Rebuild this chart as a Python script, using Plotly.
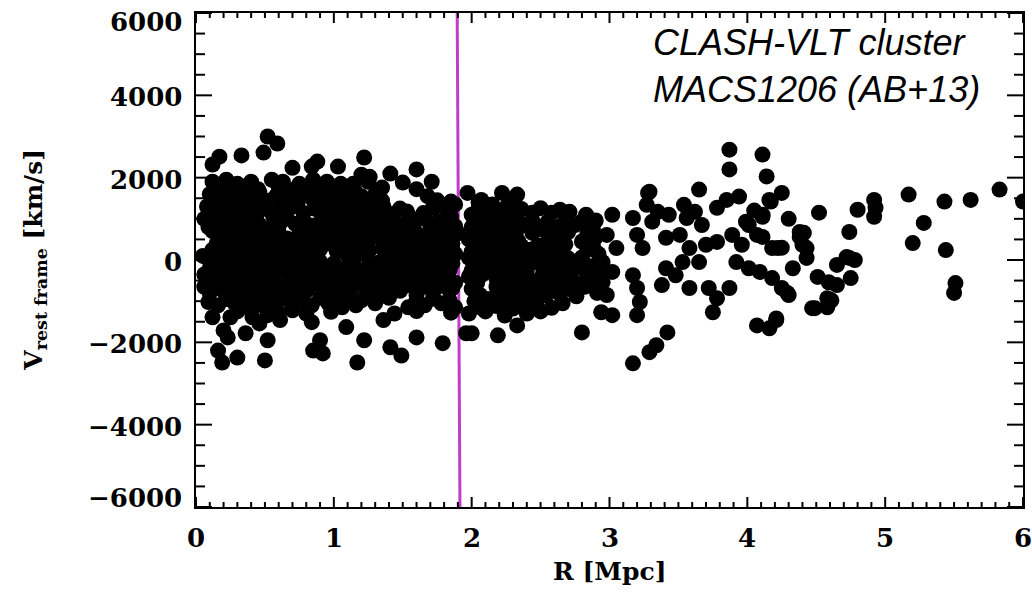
import plotly.graph_objects as go

# ---- data: outer / sparse points (R in Mpc, V in km/s) ----
R_OUT = [0.52, 0.59, 0.17, 0.33, 0.49, 0.12, 0.88, 0.70, 1.03, 1.22, 1.41, 1.26, 0.84, 1.20, 1.60, 1.50,
         1.71, 1.72, 1.97, 0.12, 0.09, 0.08, 0.09, 0.12, 1.14,
         0.16, 0.19, 0.30, 0.23, 0.50, 0.52, 0.36, 0.41, 0.85, 0.92, 0.90, 1.17, 1.22, 1.09, 1.41, 1.49,
         1.60, 1.79, 1.36, 1.44, 1.96, 0.84, 0.80, 0.46, 0.52, 0.61, 0.20, 0.25]
V_OUT = [3000, 2830, 2510, 2540, 2610, 2320, 2390, 2240, 2270, 2490, 2100, 2020, 2270, 2070, 2200, 1880,
         1900, 1270, 1630, 1460, 800, 50, -1020, -1390, 1850,
         -2200, -2490, -2370, -1880, -2440, -1950, -1780, -1390, -2200, -2270, -1950, -2490, -1950, -1630, -2120, -2320,
         -1880, -2020, -1460, -1300, -1780, -1510, -1300, -1540, -1340, -1460, -1710, -1390]

# ---- data: dense inner region R < 1.95 ----
R_IN = [0.12, 0.22, 0.30, 0.40, 0.55, 0.63, 0.75, 0.85, 0.95, 1.05, 1.25,
        0.10, 0.20, 0.28, 0.37, 0.46, 0.58, 0.68, 0.80, 0.90, 1.00, 1.10, 1.20, 1.30, 1.68,
        0.08, 0.17, 0.26, 0.35, 0.50, 0.62, 0.70, 0.86, 0.96, 1.06, 1.14, 1.25, 1.36, 1.48, 1.80, 1.88,
        0.06, 0.14, 0.24, 0.33, 0.42, 0.56, 0.66, 0.78, 0.92, 1.02, 1.12, 1.20, 1.32, 1.44, 1.55, 1.66, 1.76, 1.85,
        0.12, 0.22, 0.30, 0.38, 0.50, 0.60, 0.80, 0.88, 0.98, 1.08, 1.18, 1.28, 1.40, 1.50, 1.60, 1.70, 1.80, 1.90,
        0.15, 0.24, 0.32, 0.42, 0.52, 0.62, 0.70, 0.78, 0.86, 0.95, 1.06, 1.16, 1.24, 1.36, 1.46, 1.56, 1.66, 1.76, 1.86,
        0.05, 0.18, 0.26, 0.36, 0.46, 0.56, 0.64, 0.74, 0.84, 1.10, 1.20, 1.40, 1.50, 1.58, 1.70, 1.80, 1.88,
        0.10, 0.20, 0.30, 0.40, 0.50, 0.60, 0.70, 0.80, 0.90, 1.00, 1.10, 1.20, 1.30, 1.42, 1.52, 1.62, 1.74, 1.84,
        0.14, 0.24, 0.34, 0.44, 0.54, 0.66, 0.76, 0.86, 0.96, 1.06, 1.16, 1.26, 1.36, 1.46, 1.56, 1.66, 1.78, 1.88,
        0.10, 0.20, 0.30, 0.40, 0.50, 0.60, 0.70, 0.80, 0.92, 1.02, 1.12, 1.24, 1.34, 1.48, 1.60, 1.72, 1.84,
        0.16, 0.28, 0.38, 0.48, 0.58, 0.70, 0.84, 0.96, 1.06, 1.16, 1.30, 1.54, 1.66, 1.78, 1.88]
V_IN = [1900, 1950, 1850, 1900, 1950, 1900, 1850, 1950, 1900, 1850, 1900,
        1600, 1650, 1550, 1600, 1650, 1550, 1600, 1650, 1550, 1600, 1650, 1550, 1600, 1550,
        1300, 1250, 1350, 1300, 1250, 1350, 1300, 1250, 1350, 1300, 1250, 1350, 1300, 1250, 1300, 1350,
        1000, 950, 1050, 1000, 950, 1050, 1000, 950, 1050, 1000, 950, 1050, 1000, 950, 1050, 1000, 950, 1050,
        700, 750, 650, 700, 750, 650, 700, 750, 650, 700, 750, 650, 700, 750, 650, 700, 750, 650,
        400, 350, 450, 400, 350, 450, 400, 350, 450, 400, 350, 450, 400, 350, 450, 400, 350, 450, 400,
        100, 150, 50, 100, 150, 50, 100, 150, 50, 100, 150, 50, 100, 150, 50, 100, 150,
        -200, -150, -250, -200, -150, -250, -200, -150, -250, -200, -150, -250, -200, -150, -250, -200, -150, -250,
        -500, -450, -550, -500, -450, -550, -500, -450, -550, -500, -450, -550, -500, -450, -550, -500, -450, -550,
        -800, -750, -850, -800, -750, -850, -800, -750, -850, -800, -750, -850, -800, -750, -850, -800, -750,
        -1100, -1050, -1150, -1100, -1050, -1150, -1100, -1050, -1150, -1100, -1050, -1150, -1100, -1050, -1150]

# ---- data: dense inner region, in-between rows ----
R_IN2 = [0.15, 0.25, 0.35, 0.45, 0.60, 0.70, 0.80, 0.90, 1.00, 1.15, 1.35, 1.60,
         0.15, 0.25, 0.33, 0.42, 0.52, 0.63, 0.74, 0.85, 0.95, 1.05, 1.15, 1.25, 1.35, 1.75, 1.85,
         0.12, 0.22, 0.30, 0.40, 0.45, 0.56, 0.66, 0.78, 0.90, 1.00, 1.10, 1.20, 1.30, 1.42, 1.53, 1.65, 1.84,
         0.10, 0.18, 0.28, 0.38, 0.46, 0.60, 0.72, 0.84, 0.96, 1.06, 1.16, 1.26, 1.36, 1.48, 1.58, 1.70, 1.80, 1.88,
         0.20, 0.28, 0.36, 0.46, 0.56, 0.66, 0.74, 0.84, 0.92, 1.02, 1.12, 1.22, 1.32, 1.42, 1.52, 1.62, 1.72, 1.82,
         0.12, 0.22, 0.30, 0.40, 0.50, 0.58, 0.68, 0.80, 0.90, 1.02, 1.12, 1.26, 1.36, 1.46, 1.55, 1.65, 1.76, 1.86,
         0.14, 0.24, 0.32, 0.42, 0.52, 0.62, 0.70, 0.80, 0.90, 1.00, 1.14, 1.26, 1.34, 1.46, 1.56, 1.66, 1.76, 1.86,
         0.06, 0.16, 0.26, 0.36, 0.46, 0.56, 0.66, 0.76, 0.86, 0.96, 1.06, 1.16, 1.26, 1.36, 1.48, 1.58, 1.70, 1.80,
         0.06, 0.18, 0.28, 0.38, 0.50, 0.60, 0.72, 0.82, 0.92, 1.02, 1.12, 1.22, 1.32, 1.42, 1.52, 1.64, 1.76, 1.86,
         0.22, 0.34, 0.44, 0.54, 0.64, 0.76, 0.90, 1.00, 1.10, 1.20, 1.40, 1.60, 1.72, 1.84,
         0.30, 0.60, 0.70, 0.98, 1.60, 1.85]
V_IN2 = [1750, 1700, 1780, 1720, 1760, 1700, 1780, 1720, 1750, 1700, 1760, 1720,
         1450, 1480, 1420, 1460, 1440, 1480, 1420, 1460, 1440, 1480, 1420, 1460, 1440, 1450, 1420,
         1150, 1120, 1180, 1140, 1160, 1120, 1180, 1140, 1160, 1120, 1180, 1140, 1160, 1120, 1180, 1140, 1160,
         850, 820, 880, 840, 860, 820, 880, 840, 860, 820, 880, 840, 860, 820, 880, 840, 860, 820,
         550, 520, 580, 540, 560, 520, 580, 540, 560, 520, 580, 540, 560, 520, 580, 540, 560, 520,
         250, 220, 280, 240, 260, 220, 280, 240, 260, 220, 280, 240, 260, 220, 280, 240, 260, 220,
         -50, -80, -20, -60, -40, -80, -20, -60, -40, -80, -20, -60, -40, -80, -20, -60, -40, -80,
         -350, -380, -320, -360, -340, -380, -320, -360, -340, -380, -320, -360, -340, -380, -320, -360, -340, -380,
         -650, -680, -620, -660, -640, -680, -620, -660, -640, -680, -620, -660, -640, -680, -620, -660, -640, -680,
         -950, -980, -920, -960, -940, -980, -920, -960, -940, -980, -920, -960, -940, -980,
         -1250, -1280, -1220, -1260, -1240, -1280]

# ---- data: middle region 1.95 < R < 3 ----
R_MID = [2.07, 2.22, 2.33, 2.44, 2.58, 2.71, 2.83, 2.91, 2.94, 2.80, 2.33, 2.19, 2.00,
         2.05, 2.15, 2.28,
         2.00, 2.10, 2.20, 2.30,
         2.00, 2.08, 2.18, 2.28, 2.38, 2.50, 2.62, 2.75, 2.88,
         1.98, 2.06, 2.16, 2.26, 2.34, 2.56, 2.66, 2.80, 2.90,
         2.00, 2.10, 2.20, 2.30, 2.42, 2.52, 2.62, 2.84, 2.92,
         2.02, 2.12, 2.24, 2.34, 2.46, 2.56, 2.66, 2.76, 2.86,
         1.98, 2.08, 2.18, 2.28, 2.40, 2.50, 2.60, 2.72, 2.84,
         2.00, 2.18, 2.26, 2.36, 2.48, 2.58, 2.70, 2.82,
         2.02, 2.12, 2.24, 2.36, 2.48, 2.66,
         1.98, 2.10, 2.24, 2.40, 2.50,
         2.05, 2.15, 2.25, 2.36, 2.50, 2.64,
         2.04, 2.14, 2.24, 2.34, 2.44, 2.55, 2.68, 2.80, 2.90,
         2.02, 2.12, 2.22, 2.32, 2.44, 2.60, 2.70, 2.84,
         2.04, 2.14, 2.24, 2.36, 2.48, 2.58, 2.68, 2.88,
         1.98, 2.06, 2.16, 2.26, 2.38, 2.50, 2.60, 2.70, 2.80,
         2.00, 2.10, 2.20, 2.30, 2.40, 2.52, 2.62, 2.72, 2.82, 2.92,
         2.04, 2.24, 2.34, 2.44, 2.56, 2.66, 2.78, 2.88,
         2.06, 2.22, 2.32, 2.42, 2.54, 2.64, 2.76,
         2.06, 2.18, 2.30, 2.44, 2.58]
V_MID = [1460, 1630, 1590, 1150, 1150, 1170, 1100, -800, -1270, -1760, -1590, -1830, -1780,
         1400, 1350, 1400,
         1100, 1100, 1050, 1150,
         800, 850, 750, 800, 850, 750, 800, 850, 750,
         500, 450, 550, 500, 450, 550, 500, 450, 550,
         200, 250, 150, 200, 250, 150, 200, 250, 150,
         -100, -50, -150, -100, -50, -150, -100, -50, -150,
         -400, -350, -450, -400, -350, -450, -400, -350, -450,
         -700, -650, -750, -700, -650, -750, -700, -650,
         -1000, -950, -1050, -1000, -950, -1050,
         -1300, -1250, -1350, -1300, -1250,
         1250, 1220, 1280, 1240, 1260, 1220,
         950, 920, 980, 940, 960, 920, 980, 940, 960,
         650, 620, 680, 640, 660, 620, 680, 640,
         350, 320, 380, 340, 360, 320, 380, 340,
         50, 20, 80, 40, 60, 20, 80, 40, 60,
         -250, -280, -220, -260, -240, -280, -220, -260, -240, -280,
         -550, -520, -580, -540, -560, -520, -580, -540,
         -850, -820, -880, -840, -860, -820, -880,
         -1150, -1120, -1180, -1140, -1160]

# ---- data: outer region R > 3 ----
R_FAR = [3.87, 3.87, 4.11, 4.14, 3.65, 3.29, 3.02, 3.17, 4.25, 4.17, 3.94, 3.85, 3.78, 3.28, 3.27,
         3.31, 3.43, 3.56, 3.62, 3.67, 4.11, 3.99, 4.38, 4.40, 3.54, 3.35,
         2.98, 3.05, 3.20, 3.24, 3.41, 3.51, 3.58, 3.53, 3.41, 3.65, 3.70,
         3.78, 3.89, 3.96, 4.07, 4.18, 4.01, 3.92, 4.01, 4.09, 4.18, 4.25, 4.30, 4.33,
         2.95, 3.02, 2.95, 2.98, 3.02, 3.17, 3.20, 3.22, 3.20, 3.38, 3.48, 3.58, 3.72, 3.78, 3.75, 3.87,
         3.42, 3.34, 3.29, 3.17, 4.07, 4.16, 4.21,
         4.52, 4.80, 4.92, 4.93, 4.92, 5.17, 5.43, 5.62, 5.83, 6.00, 5.28, 5.20, 5.44, 5.51, 5.50,
         4.74, 4.41, 4.43, 4.43, 4.74, 4.65, 4.78, 4.51, 4.59, 4.75, 4.65, 4.58, 4.49, 4.58,
         4.16, 4.11, 4.11, 4.22, 4.38, 4.29, 4.21, 4.72, 4.47, 4.61, 4.25, 4.30, 4.05]
V_FAR = [2680, 2200, 2560, 2030, 1710, 1660, 1100, 1020, 1630, 1420, 1540, 1460, 1270, 1630, 1340,
         930, 1100, 1020, 1170, 850, 1100, 930, 680, 370, 1340, 1170,
         610, 290, 610, 290, 540, 610, 290, -50, -200, -50, 370,
         440, 610, 370, 610, 290, 850, -50, -200, -290, -440, -680, -850, -200,
         -50, -290, -540, -850, -1340, -370, -680, -1020, -1340, -610, -370, -680, -680, -930, -1270, -680,
         -1760, -2070, -2240, -2510, -1590, -1660, -1420,
         1150, 1220, 1460, 1270, 1050, 1590, 1420, 1460, 1710, 1420, 900, 410, 240, -560, -800,
         680, 660, 290, 50, 50, -120, 0, -410, -540, -440, -610, -930, -1170, -1150,
         1460, 1050, 560, 290, 560, -800, -1460, 70, -1170, -980, 300, 1000, 1200]

# ---- separator line ----
LINE_R = [1.895, 1.915]
LINE_V = [6000, -6000]

# ---- ticks and tick labels ----
X_TICKS = [0, 1, 2, 3, 4, 5, 6]
X_TEXT = ["0", "1", "2", "3", "4", "5", "6"]
X_MINOR = [i / 10 for i in range(61) if i % 10]
Y_TICKS = [-6000, -4000, -2000, 0, 2000, 4000, 6000]
Y_TEXT = ["\u22126000", "\u22124000", "\u22122000", "0", "2000", "4000", "6000"]
Y_MINOR = [v for v in range(-6000, 6001, 500) if v % 2000]

R_ALL = R_OUT + R_IN + R_IN2 + R_MID + R_FAR
V_ALL = V_OUT + V_IN + V_IN2 + V_MID + V_FAR

# plot area size in pixels (for tick lengths)
ML, MR, MT, MB = 196, 9, 13, 87
PW = 1032 - ML - MR
PH = 594 - MT - MB

fig = go.Figure()
fig.add_trace(go.Scatter(x=LINE_R, y=LINE_V, mode="lines",
                         line=dict(color="#c23ccb", width=3), hoverinfo="skip", showlegend=False))
fig.add_trace(go.Scatter(x=R_ALL, y=V_ALL, mode="markers",
                         marker=dict(color="black", size=16, line=dict(width=0)),
                         showlegend=False))

labelfont = dict(family="DejaVu Serif", size=26, color="black", weight="bold")

fig.update_xaxes(range=[0, 6], showline=True, linewidth=2, linecolor="black", mirror=True,
                 showgrid=False, zeroline=False, showticklabels=False, ticks="")
fig.update_yaxes(range=[-6000, 6000], showline=True, linewidth=2, linecolor="black", mirror=True,
                 showgrid=False, zeroline=False, showticklabels=False, ticks="")

tick_line = dict(color="black", width=2)
# y-axis ticks on both sides (inside)
for vals, ln in ((Y_TICKS, 16), (Y_MINOR, 9)):
    for v in vals:
        fig.add_shape(type="line", xref="paper", yref="y", x0=0, x1=ln / PW, y0=v, y1=v, line=tick_line)
        fig.add_shape(type="line", xref="paper", yref="y", x0=1, x1=1 - ln / PW, y0=v, y1=v, line=tick_line)
# x-axis ticks on both sides (inside)
for vals, ln in ((X_TICKS, 10), (X_MINOR, 5)):
    for r in vals:
        fig.add_shape(type="line", xref="x", yref="paper", x0=r, x1=r, y0=0, y1=ln / PH, line=tick_line)
        fig.add_shape(type="line", xref="x", yref="paper", x0=r, x1=r, y0=1, y1=1 - ln / PH, line=tick_line)

# tick labels (reference pulls the end labels inward)
for v, t in zip(Y_TICKS, Y_TEXT):
    shift = -2
    if v == max(Y_TICKS):
        shift = -9
    elif v == min(Y_TICKS):
        shift = 9
    fig.add_annotation(xref="paper", yref="y", x=0, y=v, xanchor="right", yanchor="middle",
                       xshift=-12, yshift=shift, text=t, showarrow=False, font=labelfont)
for r, t in zip(X_TICKS, X_TEXT):
    fig.add_annotation(xref="x", yref="paper", x=r, y=0, xanchor="center", yanchor="middle",
                       yshift=-31, text=t, showarrow=False, font=labelfont)

fig.add_annotation(xref="paper", yref="paper", x=0.5, y=-0.13, xanchor="center", yanchor="middle",
                   text="R [Mpc]", showarrow=False,
                   font=dict(family="DejaVu Serif", size=25, color="black", weight="bold"))
fig.add_annotation(xref="paper", yref="paper", x=-0.195, y=0.5, xanchor="center", yanchor="middle",
                   text="V<sub>rest frame</sub> [km/s]", textangle=-90, showarrow=False,
                   font=dict(family="DejaVu Serif", size=25, color="black", weight="bold"))
fig.add_annotation(xref="x", yref="y", x=3.30, y=4720, xanchor="left", yanchor="middle", align="left",
                   text="CLASH-VLT cluster<br>MACS1206 (AB+13)", showarrow=False,
                   font=dict(family="Liberation Sans", size=36, color="black", style="italic"))

fig.update_layout(width=1032, height=594, margin=dict(l=ML, r=MR, t=MT, b=MB),
                  plot_bgcolor="white", paper_bgcolor="white", template="none")

fig.write_html("out.html")
